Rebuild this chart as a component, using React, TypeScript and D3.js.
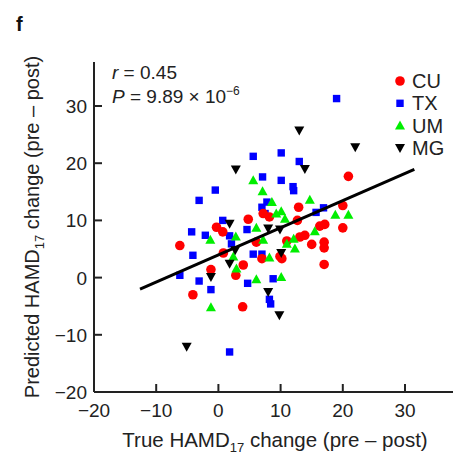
import React from "react";
import * as d3 from "d3";

const cuX = [-6.2, -4.1, -1.2, -0.3, 0.7, 0.8, 2.8, 4.0, 3.9, 4.8, 6.1, 7.0, 7.2, 8.2, 10.2, 9.9, 11.0, 12.9, 12.7, 13.1, 13.9, 15.0, 16.3, 17.1, 17.0, 17.0, 17.0, 20.0, 20.0, 20.9];
const cuY = [5.6, -3.0, 1.4, 8.8, 8.0, 4.3, 0.4, 2.2, -5.1, 10.2, 6.2, 3.3, 11.2, 10.6, 3.3, 3.7, 6.4, 12.3, 10.0, 7.1, 7.4, 5.8, 9.0, 9.3, 6.2, 5.2, 2.3, 12.6, 8.7, 17.7];

const txX = [19.0, 5.6, 10.1, 13.0, -0.5, -3.1, 7.1, 10.1, 12.0, 12.1, 7.8, 7.0, 7.5, 15.7, 16.9, 0.7, -4.3, -2.1, 4.6, 1.8, 2.1, -4.1, 5.6, 7.0, -6.2, -3.1, -1.2, 4.7, 8.8, 8.2, 8.4, 1.8];
const txY = [31.3, 21.2, 21.8, 20.3, 15.3, 13.5, 17.6, 17.0, 15.9, 15.2, 13.2, 12.3, 11.2, 11.4, 12.2, 10.0, 8.0, 7.4, 8.4, 7.3, 5.9, 3.9, 4.1, 4.1, 0.4, -0.6, -2.1, -1.0, -0.2, -3.8, -4.6, -13.0];

const umX = [5.6, 7.1, 8.6, 14.7, 10.1, 9.3, 10.7, 18.8, 20.9, -1.3, 2.8, 2.4, 2.9, 6.1, 7.2, 8.2, 11.0, 12.1, 12.3, 15.5, 6.1, 10.1, -1.2];
const umY = [17.0, 15.1, 13.2, 13.6, 11.6, 11.2, 10.3, 11.0, 11.0, 6.6, 7.2, 3.7, 1.6, 8.7, 6.6, 3.5, 5.9, 6.8, 5.1, 8.1, -0.3, 0.1, -5.2];

const mgX = [13.0, 22.0, 2.8, 13.9, 1.8, 8.0, 9.9, 2.7, 1.8, 10.1, -1.2, 8.0, 9.8, -5.1];
const mgY = [25.7, 22.8, 18.9, 19.0, 9.4, 8.6, 8.4, 4.8, 2.4, 4.3, 0.1, -2.5, -6.6, -12.1];

const fitX = [-12.6, 31.5];
const fitY = [-2.0, 18.9];

const xTicks = [-20, -10, 0, 10, 20, 30];
const yTicks = [-20, -10, 0, 10, 20, 30];

const legendLabels = ["CU", "TX", "UM", "MG"];
const legendColors = ["#ff0000", "#0000ff", "#00ee00", "#000000"];

const FONT = "'Liberation Sans', Arial, sans-serif";

function Marker({ kind, cx, cy, color }: { kind: string; cx: number; cy: number; color: string }) {
  if (kind === "circle") return <circle cx={cx} cy={cy} r={4.8} fill={color} />;
  if (kind === "square") return <rect x={cx - 3.7} y={cy - 3.7} width={7.4} height={7.4} fill={color} />;
  const s = 5;
  if (kind === "up") {
    return <path d={`M${cx},${cy - s} L${cx + s},${cy + s * 0.8} L${cx - s},${cy + s * 0.8} Z`} fill={color} />;
  }
  return <path d={`M${cx},${cy + s} L${cx + s},${cy - s * 0.8} L${cx - s},${cy - s * 0.8} Z`} fill={color} />;
}

export default function App() {
  const x = d3.scaleLinear().domain([-20, 30]).range([94, 405]);
  const y = d3.scaleLinear().domain([-20, 30]).range([392, 106]);
  const xMax = x.invert(453);
  const yMax = y.invert(62);
  const fmt = d3.format("d");
  const axisColor = "#222";

  const series = [
    { xs: txX, ys: txY, kind: "square", color: legendColors[1] },
    { xs: cuX, ys: cuY, kind: "circle", color: legendColors[0] },
    { xs: umX, ys: umY, kind: "up", color: legendColors[2] },
    { xs: mgX, ys: mgY, kind: "down", color: legendColors[3] },
  ];
  const kinds = ["circle", "square", "up", "down"];
  const line = d3.line<number>().x((d, i) => x(fitX[i])).y((d, i) => y(fitY[i]));

  return (
    <svg width={462} height={455} style={{ position: "absolute", left: 0, top: 0, background: "#fff" }} fontFamily={FONT}>
      <text x={16} y={31} fontSize={20} fontWeight="bold" fill="#111">f</text>

      {/* axes */}
      <line x1={x(-20)} x2={x(-20)} y1={y(yMax)} y2={y(-20)} stroke={axisColor} strokeWidth={2} />
      <line x1={x(-20)} x2={x(xMax)} y1={y(-20)} y2={y(-20)} stroke={axisColor} strokeWidth={2} />
      {xTicks.map((t) => (
        <g key={"x" + t}>
          <line x1={x(t)} x2={x(t)} y1={y(-20)} y2={y(-20) - 8} stroke={axisColor} strokeWidth={2} />
          <text x={x(t)} y={417} fontSize={19} textAnchor="middle" fill="#222">{fmt(t)}</text>
        </g>
      ))}
      {yTicks.map((t) => (
        <g key={"y" + t}>
          <line x1={x(-20)} x2={x(-20) + 8} y1={y(t)} y2={y(t)} stroke={axisColor} strokeWidth={2} />
          <text x={87} y={y(t) + 7} fontSize={19} textAnchor="end" fill="#222">{fmt(t)}</text>
        </g>
      ))}

      {/* axis titles */}
      <text x={275} y={447} fontSize={20.5} textAnchor="middle" fill="#222">
        True HAMD<tspan fontSize={13} dy={5}>17</tspan><tspan dy={-5}> change (pre – post)</tspan>
      </text>
      <text transform={`translate(39,227) rotate(-90)`} fontSize={20} textAnchor="middle" fill="#222">
        Predicted HAMD<tspan fontSize={13} dy={5}>17</tspan><tspan dy={-5}> change (pre – post)</tspan>
      </text>

      {/* annotation */}
      <text x={112} y={79} fontSize={19} fill="#222">
        <tspan fontStyle="italic">r</tspan> = 0.45
      </text>
      <text x={112} y={103} fontSize={19} fill="#222">
        <tspan fontStyle="italic">P</tspan> = 9.89 × 10<tspan fontSize={12} dy={-8}>−6</tspan>
      </text>

      {/* points */}
      {series.map((s, si) => (
        <g key={si}>
          {s.xs.map((v, i) => (
            <Marker key={i} kind={s.kind} cx={x(v)} cy={y(s.ys[i])} color={s.color} />
          ))}
        </g>
      ))}

      {/* fit line */}
      <path d={line(fitX) || ""} stroke="#000" strokeWidth={3} fill="none" />

      {/* legend */}
      {legendLabels.map((lab, i) => (
        <g key={lab}>
          <Marker kind={kinds[i]} cx={400} cy={81 + i * 22.3} color={legendColors[i]} />
          <text x={412} y={81 + i * 22.3 + 7} fontSize={20} fill="#222">{lab}</text>
        </g>
      ))}
    </svg>
  );
}
